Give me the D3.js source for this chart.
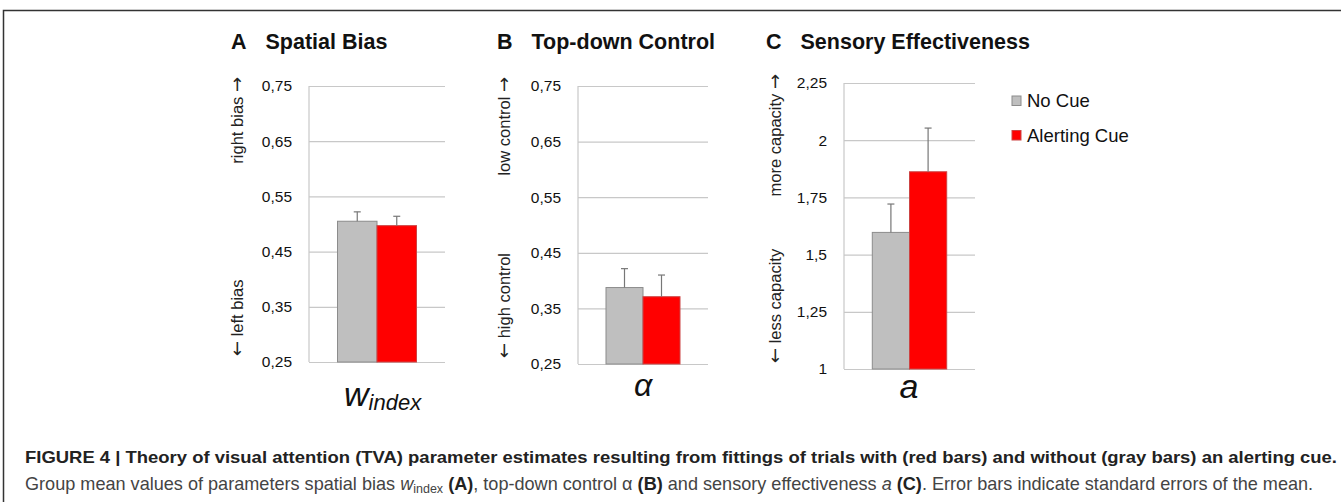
<!DOCTYPE html>
<html><head><meta charset="utf-8">
<script src="https://cdn.jsdelivr.net/npm/d3@7"></script>
<style>body{margin:0;background:#fff;}svg{display:block;font-family:Arial,"Liberation Sans",sans-serif;}</style>
</head><body>
<svg id="c" width="1341" height="502"></svg>
<script>
// ---- data ----
const series = ["No Cue", "Alerting Cue"];
const colors = ["#bfbfbf", "#ff0000"];
const panelLetters = ["A", "B", "C"];
const panelTitles = ["Spatial Bias", "Top-down Control", "Sensory Effectiveness"];
const meansA = [0.505, 0.497];
const errorsA = [0.017, 0.017];
const meansB = [0.3875, 0.371];
const errorsB = [0.034, 0.039];
const meansC = [1.597, 1.862];
const errorsC = [0.124, 0.191];
const ticksA = [0.25, 0.35, 0.45, 0.55, 0.65, 0.75];
const ticksB = [0.25, 0.35, 0.45, 0.55, 0.65, 0.75];
const ticksC = [1, 1.25, 1.5, 1.75, 2, 2.25];
const tickLabelsA = ["0,25", "0,35", "0,45", "0,55", "0,65", "0,75"];
const tickLabelsB = ["0,25", "0,35", "0,45", "0,55", "0,65", "0,75"];
const tickLabelsC = ["1", "1,25", "1,5", "1,75", "2", "2,25"];
const upperLabels = ["right bias", "low control", "more capacity"];
const lowerLabels = ["left bias", "high control", "less capacity"];

const svg = d3.select("#c");

// frame
svg.append("path").attr("d", "M3.5,502 V10.5 H1341").attr("fill", "none").attr("stroke", "#333").attr("stroke-width", 1.5);

const panels = [
  {means: meansA, errs: errorsA, ticks: ticksA, labels: tickLabelsA, x0: 309, x1: 445, yTop: 86, yBot: 362, titleX: 231, labX: 243},
  {means: meansB, errs: errorsB, ticks: ticksB, labels: tickLabelsB, x0: 578, x1: 708, yTop: 86, yBot: 364, titleX: 497, labX: 510},
  {means: meansC, errs: errorsC, ticks: ticksC, labels: tickLabelsC, x0: 844, x1: 975, yTop: 83, yBot: 369, titleX: 766, labX: 781}
];

panels.forEach((p, i) => {
  const g = svg.append("g");
  const dom = d3.extent(p.ticks);
  const y = d3.scaleLinear().domain(dom).range([p.yBot, p.yTop]);
  const cx = (p.x0 + p.x1) / 2;
  const bw = i === 0 ? 39.5 : (i === 1 ? 37 : 37.2);
  const x = d3.scaleBand().domain(series).range([cx - bw, cx + bw]).padding(0);

  const ax = d3.axisLeft(y).tickValues(p.ticks).tickSize(-(p.x1 - p.x0)).tickPadding(17)
    .tickFormat((d, k) => p.labels[k]);
  const ag = g.append("g").attr("transform", `translate(${p.x0},0)`).call(ax);
  ag.select(".domain").remove();
  ag.selectAll(".tick line").attr("stroke", "#c8c8c8").attr("stroke-width", 1.2);
  ag.selectAll(".tick text").attr("font-size", 15.5).attr("fill", "#111").attr("font-family", "Arial, 'Liberation Sans', sans-serif");
  g.append("line").attr("x1", p.x0).attr("x2", p.x0).attr("y1", p.yTop).attr("y2", p.yBot).attr("stroke", "#c8c8c8").attr("stroke-width", 1.2);

  g.selectAll("rect.bar").data(p.means).join("rect")
    .attr("x", (d, k) => x(series[k]))
    .attr("y", d => y(d))
    .attr("width", x.bandwidth())
    .attr("height", d => y(dom[0]) - y(d))
    .attr("fill", (d, k) => colors[k])
    .attr("stroke", (d, k) => k === 0 ? "#8c8c8c" : "#c44")
    .attr("stroke-width", 1);

  p.means.forEach((m, k) => {
    const ex = x(series[k]) + x.bandwidth() / 2;
    g.append("line").attr("x1", ex).attr("x2", ex).attr("y1", y(m)).attr("y2", y(m + p.errs[k]))
      .attr("stroke", "#777").attr("stroke-width", 1.2);
    g.append("line").attr("x1", ex - 3.5).attr("x2", ex + 3.5).attr("y1", y(m + p.errs[k])).attr("y2", y(m + p.errs[k]))
      .attr("stroke", "#777").attr("stroke-width", 1.2);
  });

  const t = g.append("text").attr("x", p.titleX).attr("y", 49).attr("font-size", 21.5).attr("font-weight", "bold").attr("fill", "#111");
  t.append("tspan").text(panelLetters[i]);
  t.append("tspan").attr("dx", 19).text(panelTitles[i]);

  const up = g.append("text").attr("transform", `translate(${p.labX},${p.yTop - 9}) rotate(-90)`)
    .attr("text-anchor", "end").attr("font-size", 16.5).attr("fill", "#222");
  up.append("tspan").text(upperLabels[i] + " ");
  up.append("tspan").attr("font-family", "DejaVu Sans").attr("font-size", 18).text("\u2192");
  const lo = g.append("text").attr("transform", `translate(${p.labX},${p.yBot - 6}) rotate(-90)`)
    .attr("text-anchor", "start").attr("font-size", 16.5).attr("fill", "#222");
  lo.append("tspan").attr("font-family", "DejaVu Sans").attr("font-size", 18).text("\u2190");
  lo.append("tspan").text(" " + lowerLabels[i]);
});

// x labels
const xl1 = svg.append("text").attr("x", 344).attr("y", 406).attr("font-style", "italic").attr("fill", "#111");
xl1.append("tspan").attr("font-size", 34).text("w");
xl1.append("tspan").attr("font-size", 22).attr("dy", 4).text("index");
svg.append("text").attr("x", 643).attr("y", 396).attr("text-anchor", "middle").attr("font-style", "italic").attr("font-size", 32).attr("fill", "#111").text("\u03b1");
svg.append("text").attr("x", 909).attr("y", 398).attr("text-anchor", "middle").attr("font-style", "italic").attr("font-size", 34).attr("fill", "#111").text("a");

// legend
const lg = svg.append("g");
series.forEach((s, k) => {
  lg.append("rect").attr("x", 1012).attr("y", 96 + k * 34.5).attr("width", 9).attr("height", 9.5)
    .attr("fill", colors[k]).attr("stroke", k === 0 ? "#8c8c8c" : "#c44").attr("stroke-width", 1);
  lg.append("text").attr("x", 1027).attr("y", 107 + k * 34.5).attr("font-size", 18.5).attr("fill", "#111").text(s);
});

// caption
svg.append("text").attr("x", 25).attr("y", 463).attr("font-size", 16.5).attr("font-weight", "bold").attr("fill", "#222")
  .attr("textLength", 1312).attr("lengthAdjust", "spacingAndGlyphs")
  .text("FIGURE 4 | Theory of visual attention (TVA) parameter estimates resulting from fittings of trials with (red bars) and without (gray bars) an alerting cue.");
const c2 = svg.append("text").attr("x", 25).attr("y", 490).attr("font-size", 18.1).attr("fill", "#444");
c2.append("tspan").text("Group mean values of parameters spatial bias ");
c2.append("tspan").attr("font-style", "italic").text("w");
c2.append("tspan").attr("font-size", 12.5).attr("dy", 3).text("index");
c2.append("tspan").attr("dy", -3).text(" ");
c2.append("tspan").attr("font-weight", "bold").attr("fill", "#222").text("(A)");
c2.append("tspan").text(", top-down control \u03b1 ");
c2.append("tspan").attr("font-weight", "bold").attr("fill", "#222").text("(B)");
c2.append("tspan").text(" and sensory effectiveness ");
c2.append("tspan").attr("font-style", "italic").text("a");
c2.append("tspan").text(" ");
c2.append("tspan").attr("font-weight", "bold").attr("fill", "#222").text("(C)");
c2.append("tspan").text(". Error bars indicate standard errors of the mean.");
</script>
</body></html>
